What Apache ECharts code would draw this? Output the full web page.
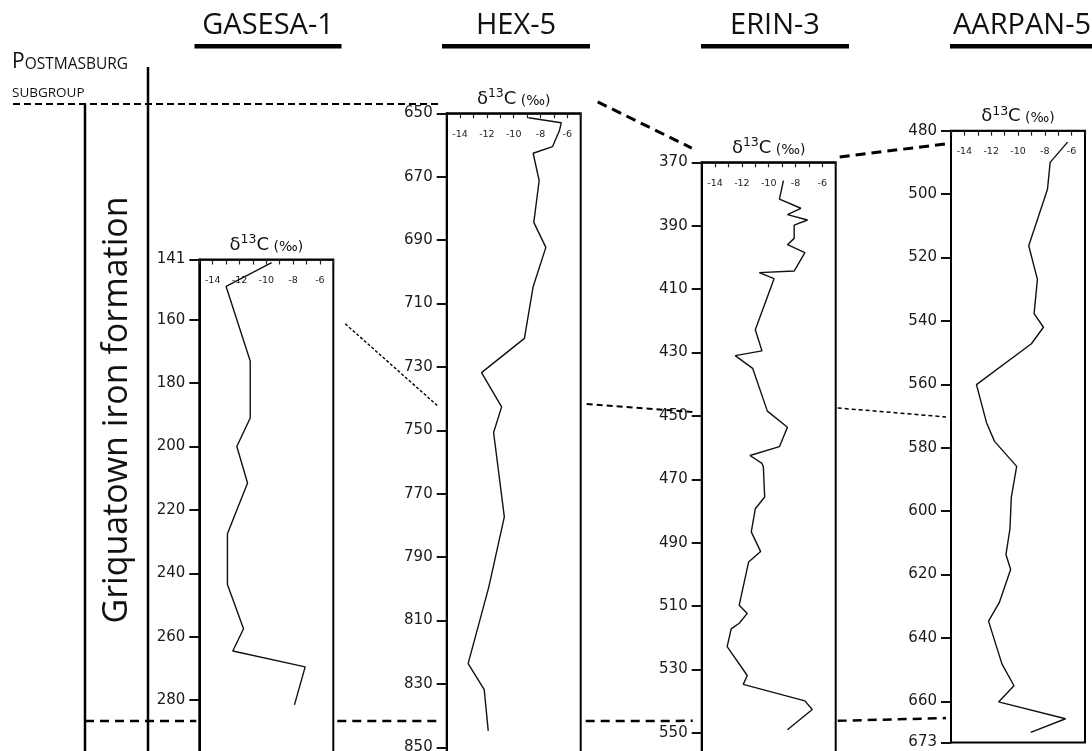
<!DOCTYPE html>
<html>
<head>
<meta charset="utf-8">
<script src="https://cdn.jsdelivr.net/npm/echarts@6/dist/echarts.min.js"></script>
<style>
  html, body { margin: 0; padding: 0; background: #fff; }
  #chart { width: 1092px; height: 751px; }
</style>
</head>
<body>
<div id="chart"></div>
<script>
// Well names
const wells = ['GASESA-1', 'HEX-5', 'ERIN-3', 'AARPAN-5'];

// GASESA-1: depth (m) and δ13C (‰)
const gasesaDepth = [142, 149.5, 173, 191, 200, 211.5, 227.5, 243.5, 257.5, 264.5, 269.5, 281.5];
const gasesaD13C  = [-9.6, -13.0, -11.2, -11.2, -12.2, -11.4, -12.9, -12.9, -11.7, -12.5, -7.1, -7.9];

// HEX-5
const hexDepth = [651.4, 653.0, 655.6, 660.5, 662.6, 671.2, 684.4, 692.3, 704.7, 721.0, 731.8, 742.6, 750.7, 777.3, 799.3, 823.6, 831.8, 844.8];
const hexD13C  = [-8.9, -6.45, -6.6, -7.1, -8.55, -8.1, -8.5, -7.6, -8.55, -9.2, -12.4, -10.9, -11.5, -10.7, -11.85, -13.4, -12.2, -11.9];

// ERIN-3
const erinDepth = [375.8, 381.6, 384.5, 386.5, 388.2, 389.8, 394.0, 396.0, 398.5, 404.3, 404.8, 406.7, 422.8, 429.5, 431.0, 435.0, 448.5, 453.6, 459.7, 462.5, 465.0, 466.0, 475.6, 479.3, 486.6, 492.8, 496.1, 509.7, 512.3, 515.4, 517.2, 522.8, 531.9, 534.7, 539.9, 542.6, 549.0];
const erinD13C  = [-8.9, -9.2, -7.6, -8.6, -7.1, -8.1, -8.1, -8.6, -7.3, -8.1, -10.7, -9.6, -11.0, -10.5, -12.5, -11.2, -10.1, -8.6, -9.2, -11.4, -10.5, -10.4, -10.3, -11.0, -11.3, -10.6, -11.5, -12.2, -11.6, -12.2, -12.8, -13.1, -11.6, -11.9, -7.3, -6.75, -8.6];

// AARPAN-5
const aarpanDepth = [483.6, 490.0, 498.5, 516.3, 526.9, 537.7, 542.0, 547.2, 560.1, 572.1, 578.0, 585.9, 595.7, 605.6, 613.7, 618.4, 628.9, 634.7, 648.2, 655.1, 660.2, 665.5, 669.8];
const aarpanD13C  = [-6.3, -7.6, -7.8, -9.2, -8.55, -8.8, -8.1, -9.0, -13.1, -12.35, -11.75, -10.1, -10.5, -10.6, -10.9, -10.55, -11.4, -12.2, -11.2, -10.3, -11.45, -6.45, -9.05];

// Depth tick labels per well
const gasesaTicks = [141, 160, 180, 200, 220, 240, 260, 280];
const hexTicks    = [650, 670, 690, 710, 730, 750, 770, 790, 810, 830, 850];
const erinTicks   = [370, 390, 410, 430, 450, 470, 490, 510, 530, 550];
const aarpanTicks = [480, 500, 520, 540, 560, 580, 600, 620, 640, 660, 673];

// Depth interval shown for each well
const gasesaRange = [141, 299];
const hexRange    = [650, 852];
const erinRange   = [370, 558];
const aarpanRange = [480, 673];

// δ13C axis
const d13cRange  = [-15, -5];
const d13cLabels = [-14, -12, -10, -8, -6];

// Stratigraphic tie lines between wells: [fromWell, fromDepth, toWell, toDepth]
// (fromWell null = starts at the lithology column on the left)
const ties = [
  [null, null, 1, 647.1],
  [1, 646.4, 2, 365.5],
  [2, 368.3, 3, 484.2],
  [0, 161.3, 1, 742.6],
  [1, 741.7, 2, 448.8],
  [2, 447.5, 3, 570.3],
  [null, null, 0, 286.6],
  [0, 286.6, 1, 841.7],
  [1, 841.7, 2, 546.2],
  [2, 546.2, 3, 665.3]
];

// ---------------------------------------------------------------- layout
const PX_PER_M = 3.17;
const PANEL_W = 134;
const panelLeft = [199.3, 446.7, 701.7, 951];
const panelTop  = [259.5, 113.3, 162.3, 130.7];

const depths = [gasesaDepth, hexDepth, erinDepth, aarpanDepth];
const values = [gasesaD13C, hexD13C, erinD13C, aarpanD13C];
const ticks  = [gasesaTicks, hexTicks, erinTicks, aarpanTicks];
const ranges = [gasesaRange, hexRange, erinRange, aarpanRange];

// per-tie drawing style: gaps from panel edges, stroke width and dash
const tieStyle = [
  { x0: 13, gapR: 7,  w: 2,   dash: [7, 4] },
  { gapL: 17, gapR: 10, w: 3,   dash: [10, 6] },
  { gapL: 4,  gapR: 6,  w: 3,   dash: [10, 6] },
  { gapL: 12, gapR: 8,  w: 1.4, dash: [3, 2] },
  { gapL: 6,  gapR: 8,  w: 2,   dash: [6, 4] },
  { gapL: 2,  gapR: 5,  w: 1.5, dash: [4, 3] },
  { x0: 85, gapR: 3,  w: 2.5, dash: [9, 6] },
  { gapL: 4,  gapR: 7,  w: 2.5, dash: [9, 6] },
  { gapL: 5,  gapR: 9,  w: 2.5, dash: [9, 6] },
  { gapL: 2,  gapR: 5,  w: 2.5, dash: [9, 6] }
];

const NUM_FONT = 'DejaVu Sans';
const TXT_FONT = 'Open Sans';

const grids = [], xAxes = [], yAxes = [], series = [];
wells.forEach((name, i) => {
  const r = ranges[i];
  grids.push({
    left: panelLeft[i], top: panelTop[i], width: PANEL_W,
    height: (r[1] - r[0]) * PX_PER_M,
    show: true, borderColor: '#000', borderWidth: 2, backgroundColor: 'transparent',
    containLabel: false, outerBoundsMode: 'none'
  });
  xAxes.push({
    gridIndex: i, type: 'value', position: 'top',
    min: d13cRange[0], max: d13cRange[1], interval: 1,
    axisLine: { show: true, lineStyle: { color: '#000', width: 1.5 } },
    axisTick: { show: true, inside: true, length: 5, lineStyle: { color: '#222', width: 1.2 } },
    axisLabel: {
      show: true, inside: true, margin: 16, customValues: d13cLabels,
      fontFamily: NUM_FONT, fontSize: 9.5, color: '#222'
    },
    splitLine: { show: false },
    name: '{a|δ}{s|13}{a|C}{b| (‰)}',
    nameLocation: 'middle', nameGap: 3,
    nameTextStyle: {
      verticalAlign: 'bottom',
      rich: {
        a: { fontFamily: NUM_FONT, fontSize: 18, color: '#111', verticalAlign: 'bottom', lineHeight: 21 },
        s: { fontFamily: NUM_FONT, fontSize: 12.5, color: '#111', verticalAlign: 'top', lineHeight: 13 },
        b: { fontFamily: NUM_FONT, fontSize: 14, color: '#111', verticalAlign: 'bottom', lineHeight: 19 }
      }
    }
  });
  yAxes.push({
    gridIndex: i, type: 'value', inverse: true,
    min: r[0], max: r[1],
    axisLine: { show: true, onZero: false, lineStyle: { color: '#000', width: 2 } },
    axisTick: { show: true, customValues: ticks[i], length: 10, lineStyle: { color: '#111', width: 2 } },
    axisLabel: {
      show: true, customValues: ticks[i], margin: 14,
      fontFamily: NUM_FONT, fontSize: 15, color: '#1a1a1a'
    },
    splitLine: { show: false }
  });
  series.push({
    type: 'line', name: name, xAxisIndex: i, yAxisIndex: i,
    data: depths[i].map((d, k) => [values[i][k], d]),
    symbol: 'none', smooth: false,
    lineStyle: { color: '#111', width: 1.4 },
    silent: true
  });
});

const chart = echarts.init(document.getElementById('chart'), null, { renderer: 'canvas' });
chart.setOption({
  animation: false,
  backgroundColor: '#fff',
  grid: grids, xAxis: xAxes, yAxis: yAxes, series: series
});

// ---------------------------------------------------------------- annotations
const toPx = (well, depth) => chart.convertToPixel({ gridIndex: well }, [d13cRange[0], depth])[1];
const graphics = [];

// tie lines
ties.forEach((t, k) => {
  const st = tieStyle[k];
  const y1 = toPx(t[2], t[3]);
  const y0 = t[0] === null ? y1 : toPx(t[0], t[1]);
  const x0 = t[0] === null ? st.x0 : panelLeft[t[0]] + PANEL_W + st.gapL;
  const x1 = panelLeft[t[2]] - st.gapR;
  graphics.push({
    type: 'line', silent: true, z: 5,
    shape: { x1: x0, y1: y0, x2: x1, y2: y1 },
    style: { stroke: '#000', lineWidth: st.w, lineDash: st.dash }
  });
});

// lithology column borders
const baseTopY = toPx(1, ties[0][3]);
graphics.push({ type: 'line', silent: true, shape: { x1: 85, y1: baseTopY, x2: 85, y2: 760 }, style: { stroke: '#000', lineWidth: 2.5 } });
graphics.push({ type: 'line', silent: true, shape: { x1: 148, y1: 67, x2: 148, y2: 760 }, style: { stroke: '#000', lineWidth: 2.5 } });

// unit names
graphics.push({
  type: 'text', silent: true, x: 12, y: 73,
  style: {
    text: '{p|P}{o|OSTMASBURG}', verticalAlign: 'bottom', align: 'left',
    rich: {
      p: { fontFamily: TXT_FONT, fontSize: 21, fill: '#111', verticalAlign: 'bottom', lineHeight: 26 },
      o: { fontFamily: TXT_FONT, fontSize: 15.5, fill: '#111', verticalAlign: 'bottom', lineHeight: 21 }
    }
  }
});
graphics.push({
  type: 'text', silent: true, x: 12, y: 100,
  style: { text: 'SUBGROUP', fontFamily: TXT_FONT, fontSize: 13.5, fill: '#111', verticalAlign: 'bottom', align: 'left' }
});
graphics.push({
  type: 'text', silent: true, x: 117, y: 410, rotation: Math.PI / 2,
  style: { text: 'Griquatown iron formation', fontFamily: TXT_FONT, fontSize: 34, fill: '#111', align: 'center', verticalAlign: 'middle' }
});

// well titles with underline bars
const titleBar = [[194.5, 341.5], [442, 590], [701, 849], [950, 1100]];
wells.forEach((name, i) => {
  const b = titleBar[i];
  const cx = i === 3 ? b[0] + 3 : (b[0] + b[1]) / 2;
  graphics.push({
    type: 'text', silent: true, x: cx, y: 26,
    style: { text: name, fontFamily: TXT_FONT, fontSize: 29, fill: '#111', align: i === 3 ? 'left' : 'center', verticalAlign: 'middle' }
  });
  graphics.push({
    type: 'rect', silent: true,
    shape: { x: b[0], y: 44, width: b[1] - b[0], height: 4.5 },
    style: { fill: '#000' }
  });
});

chart.setOption({ graphic: graphics });
</script>
</body>
</html>
